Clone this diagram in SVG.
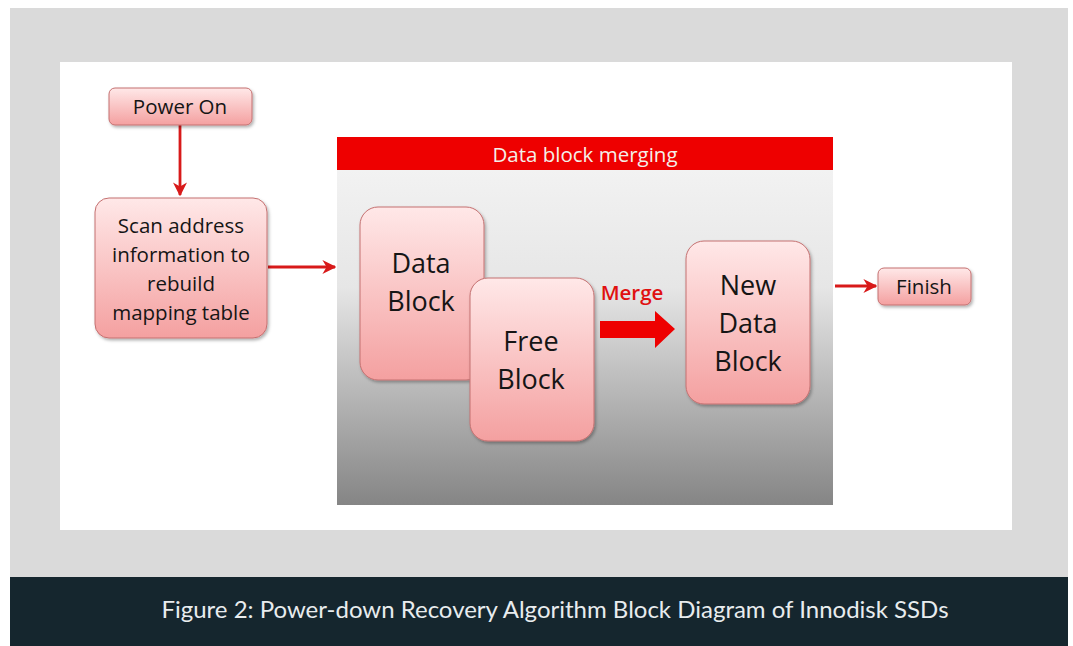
<svg xmlns="http://www.w3.org/2000/svg" width="1073" height="646" viewBox="0 0 1073 646">
<defs>
<linearGradient id="pink" x1="0" y1="0" x2="0" y2="1">
<stop offset="0" stop-color="#ffe8e8"/>
<stop offset="1" stop-color="#f4a0a0"/>
</linearGradient>
<linearGradient id="grayg" x1="0" y1="0" x2="0" y2="1">
<stop offset="0" stop-color="#f2f2f2"/>
<stop offset="0.35" stop-color="#e6e6e6"/>
<stop offset="1" stop-color="#858585"/>
</linearGradient>
<filter id="sh" x="-10%" y="-10%" width="130%" height="130%">
<feDropShadow dx="1.5" dy="2" stdDeviation="1.5" flood-color="#000" flood-opacity="0.3"/>
</filter>
<marker id="ah" viewBox="0 0 10 10" refX="9" refY="5" markerWidth="5" markerHeight="5" orient="auto">
<path d="M0,0 L10,5 L0,10 L3,5 Z" fill="#d81a1a"/>
</marker>
</defs>
<style>
.box{fill:url(#pink);stroke:#c47070;stroke-width:1;filter:url(#sh);}
.t{font-family:"Open Sans","Lato","Liberation Sans",sans-serif;fill:#151515;text-anchor:middle;font-weight:500;}
.s{font-size:20.5px;}
.b{font-size:27px;}
.conn{stroke:#d81a1a;stroke-width:2.8;fill:none;marker-end:url(#ah);}
</style>
<rect x="0" y="0" width="1073" height="646" fill="#ffffff"/>
<rect x="10" y="8" width="1058" height="570" fill="#dadada"/>
<rect x="10" y="577" width="1058" height="69" fill="#15262e"/>
<text x="555" y="618" font-family="Lato,'Open Sans',sans-serif" font-size="24" fill="#e8ecee" text-anchor="middle">Figure 2: Power-down Recovery Algorithm Block Diagram of Innodisk SSDs</text>
<rect x="60" y="62" width="952" height="468" fill="#ffffff"/>

<g id="merge-area">
<rect x="337" y="170" width="496" height="335" fill="url(#grayg)"/>
<rect x="337" y="137" width="496" height="33" fill="#ee0000"/>
<text x="585" y="162" class="t" font-size="20.5" style="fill:#f4efe8">Data block merging</text>
</g>

<g id="connectors">
<line x1="180" y1="125" x2="180" y2="195" class="conn"/>
<line x1="268" y1="267" x2="335" y2="267" class="conn"/>
<line x1="835" y1="286" x2="876" y2="286" class="conn"/>
<path d="M600,321 L655,321 L655,311 L675,329 L655,348 L655,338 L600,338 Z" fill="#ee0000"/>
<text x="632" y="300" font-family="'Open Sans',Lato,sans-serif" font-size="20.5" font-weight="600" fill="#e01010" text-anchor="middle">Merge</text>
</g>

<g id="power-on">
<rect x="109" y="88" width="143" height="37" rx="6" class="box"/>
<text x="180" y="114" class="t s">Power On</text>
</g>

<g id="scan">
<rect x="95" y="198" width="172" height="140" rx="14" class="box"/>
<text class="t s"><tspan x="181" y="233">Scan address</tspan><tspan x="181" y="262">information to</tspan><tspan x="181" y="291">rebuild</tspan><tspan x="181" y="320">mapping table</tspan></text>
</g>

<g id="data-block">
<rect x="360" y="207" width="124" height="173" rx="18" class="box"/>
<text class="t b"><tspan x="421" y="273">Data</tspan><tspan x="421" y="311">Block</tspan></text>
</g>

<g id="free-block">
<rect x="470" y="278" width="124" height="163" rx="18" class="box"/>
<text class="t b"><tspan x="531" y="351">Free</tspan><tspan x="531" y="389">Block</tspan></text>
</g>

<g id="new-data-block">
<rect x="686" y="241" width="124" height="163" rx="18" class="box"/>
<text class="t b"><tspan x="748" y="295">New</tspan><tspan x="748" y="333">Data</tspan><tspan x="748" y="371">Block</tspan></text>
</g>

<g id="finish">
<rect x="878" y="268" width="93" height="37" rx="6" class="box"/>
<text x="924" y="294" class="t s">Finish</text>
</g>
</svg>
